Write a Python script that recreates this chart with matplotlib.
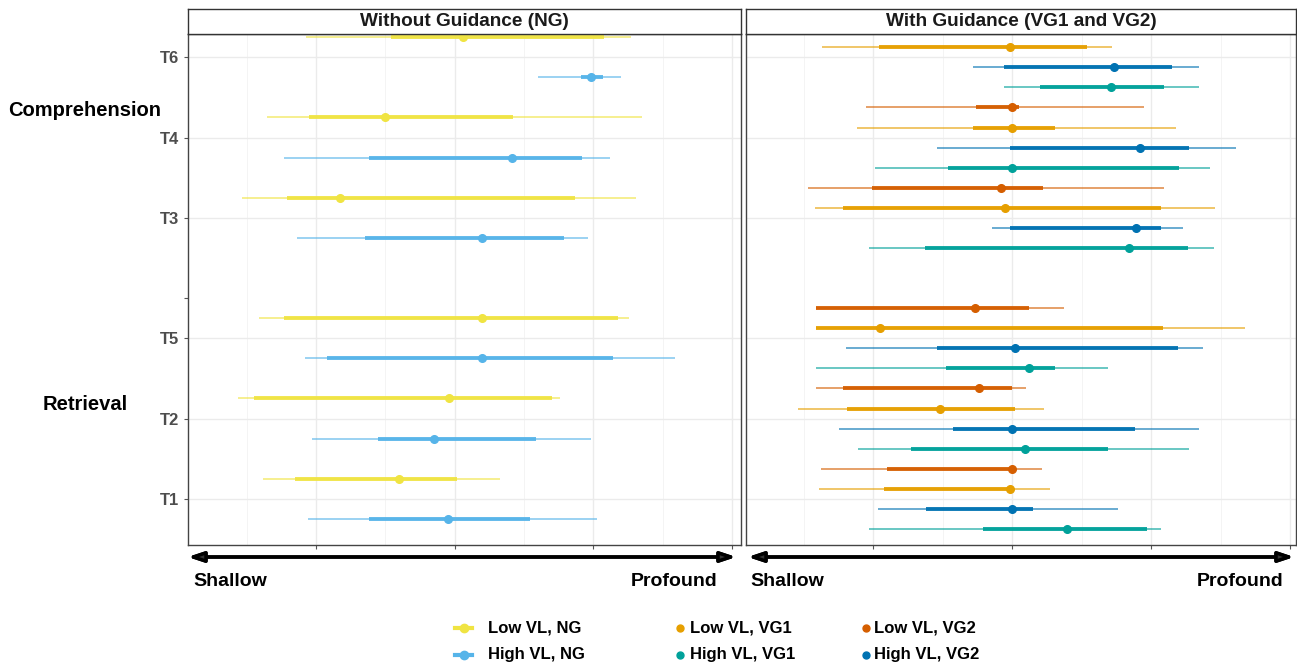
import numpy as np
import matplotlib
matplotlib.use("Agg")
import matplotlib.pyplot as plt
from matplotlib.lines import Line2D

plt.rcParams['font.family'] = ['Liberation Sans', 'DejaVu Sans']

# y polozaji kategorij (T1 spodaj)
tasks = ['T1', 'T2', 'T5', '', 'T3', 'T4', 'T6']
task_y = [1, 2, 3, 3.5, 4.5, 5.5, 6.5]
groups = ['Retrieval', 'Comprehension']
group_y = [2.175, 5.84]

# levi panel - brez vodenja (NG), vrstni red: T6, T4, T3, T5, T2, T1
ng_tasks = ['T6', 'T4', 'T3', 'T5', 'T2', 'T1']
low_ng_med = [2.06, 1.50, 1.17, 2.20, 1.96, 1.60]
low_ng_in = [(1.54, 3.08), (0.95, 2.42), (0.79, 2.87), (0.77, 3.18), (0.55, 2.70), (0.85, 2.02)]
low_ng_out = [(0.93, 3.27), (0.65, 3.35), (0.47, 3.31), (0.59, 3.26), (0.44, 2.76), (0.62, 2.33)]
high_ng_med = [2.98, 2.41, 2.20, 2.20, 1.85, 1.95]
high_ng_in = [(2.91, 3.07), (1.38, 2.92), (1.35, 2.79), (1.08, 3.14), (1.45, 2.59), (1.38, 2.54)]
high_ng_out = [(2.60, 3.20), (0.77, 3.12), (0.86, 2.96), (0.92, 3.59), (0.97, 2.98), (0.94, 3.03)]

# desni panel - z vodenjem (VG1, VG2)
vg_tasks = ['T6', 'T4', 'T3', 'T5', 'T2', 'T1']
low_vg1_med = [1.98, 2.00, 1.95, 1.05, 1.48, 1.98]
low_vg1_in = [(1.04, 2.54), (1.72, 2.31), (0.78, 3.07), (0.59, 3.08), (0.81, 2.02), (1.08, 1.98)]
low_vg1_out = [(0.63, 2.72), (0.88, 3.18), (0.58, 3.46), (0.59, 3.67), (0.46, 2.23), (0.61, 2.27)]
high_vg1_med = [2.71, 2.00, 2.84, 2.12, 2.09, 2.39]
high_vg1_in = [(2.20, 3.09), (1.54, 3.20), (1.37, 3.26), (1.52, 2.31), (1.27, 2.69), (1.79, 2.97)]
high_vg1_out = [(1.94, 3.34), (1.01, 3.42), (0.97, 3.45), (0.59, 2.69), (0.89, 3.27), (0.97, 3.07)]
low_vg2_med = [None, 2.00, 1.92, 1.73, 1.76, 2.00]
low_vg2_in = [None, (1.74, 2.05), (0.99, 2.22), (0.59, 2.12), (0.78, 2.00), (1.10, 2.00)]
low_vg2_out = [None, (0.95, 2.95), (0.53, 3.09), (0.59, 2.37), (0.59, 2.10), (0.62, 2.21)]
high_vg2_med = [2.73, 2.92, 2.89, 2.02, 2.00, 2.00]
high_vg2_in = [(1.94, 3.15), (1.98, 3.27), (1.98, 3.07), (1.46, 3.19), (1.57, 2.88), (1.38, 2.15)]
high_vg2_out = [(1.72, 3.34), (1.46, 3.61), (1.85, 3.23), (0.80, 3.37), (0.75, 3.34), (1.03, 2.76)]

col = {'Low VL, NG': '#F0E442', 'High VL, NG': '#56B4E9',
       'Low VL, VG1': '#E69F00', 'High VL, VG1': '#00A19A',
       'Low VL, VG2': '#D55E00', 'High VL, VG2': '#0072B2'}

W, H = 1297, 664
fig = plt.figure(figsize=(W / 100, H / 100), dpi=100)

def fbox(x0, y0, x1, y1):
    # pikslni pravokotnik -> figure koordinate
    return [x0 / W, 1 - y1 / H, (x1 - x0) / W, (y1 - y0) / H]

ax1 = fig.add_axes(fbox(188, 34, 741, 545))
ax2 = fig.add_axes(fbox(746, 34, 1296, 545))

xmaj = [1, 2, 3, 4]
xmin = [0.5, 1.5, 2.5, 3.5]
row_h = 0.25  # 20 px

def draw_row(ax, y, med, inner, outer, c):
    if med is None:
        return
    ax.plot(outer, [y, y], color=c, lw=1.1, alpha=0.75, solid_capstyle='butt', zorder=3)
    ax.plot(inner, [y, y], color=c, lw=2.8, alpha=0.95, solid_capstyle='butt', zorder=4)
    ax.plot([med], [y], 'o', color=c, ms=5.5, mec=c, zorder=5)

ty = dict(zip(tasks, task_y))
for i, t in enumerate(ng_tasks):
    y = ty[t]
    draw_row(ax1, y + 1 * row_h, low_ng_med[i], low_ng_in[i], low_ng_out[i], col['Low VL, NG'])
    draw_row(ax1, y - 1 * row_h, high_ng_med[i], high_ng_in[i], high_ng_out[i], col['High VL, NG'])
for i, t in enumerate(vg_tasks):
    y = ty[t]
    draw_row(ax2, y + 1.5 * row_h, low_vg2_med[i], low_vg2_in[i], low_vg2_out[i], col['Low VL, VG2'])
    draw_row(ax2, y + 0.5 * row_h, low_vg1_med[i], low_vg1_in[i], low_vg1_out[i], col['Low VL, VG1'])
    draw_row(ax2, y - 0.5 * row_h, high_vg2_med[i], high_vg2_in[i], high_vg2_out[i], col['High VL, VG2'])
    draw_row(ax2, y - 1.5 * row_h, high_vg1_med[i], high_vg1_in[i], high_vg1_out[i], col['High VL, VG1'])

for ax, xl in ((ax1, (0.077, 4.065)), (ax2, (0.084, 4.04))):
    ax.set_xlim(*xl)
    ax.set_ylim(0.425, 6.79)
    for v in xmin:
        ax.axvline(v, color='#F2F2F2', lw=0.6, zorder=0)
    for v in xmaj:
        ax.axvline(v, color='#EBEBEB', lw=1.0, zorder=0)
    for t, v in zip(tasks, task_y):
        if t:
            ax.axhline(v, color='#EBEBEB', lw=1.0, zorder=0)
    ax.set_xticks(xmaj)
    ax.set_xticklabels([])
    ax.set_yticks(task_y)
    ax.tick_params(length=3, color='#555555', width=0.8)
    for s in ax.spines.values():
        s.set_color('#444444')
        s.set_linewidth(1.0)

ax1.set_yticklabels(tasks, fontsize=12, fontweight='bold', color='#4D4D4D')
ax2.set_yticklabels([])
ax2.tick_params(axis='y', length=0)

for g, gy in zip(groups, group_y):
    ax1.text((85 - 188) / 553, (gy - 0.425) / (6.79 - 0.425), g,
             transform=ax1.transAxes, ha='center', va='center',
             fontsize=14.5, fontweight='bold', color='black')

# traki s naslovi
for (x0, x1), title in (((188, 741), 'Without Guidance (NG)'), ((746, 1296), 'With Guidance (VG1 and VG2)')):
    sax = fig.add_axes(fbox(x0, 9, x1, 34))
    sax.set_xticks([]); sax.set_yticks([])
    for s in sax.spines.values():
        s.set_color('#333333')
        s.set_linewidth(1.0)
    sax.text(0.5, 0.5, title, ha='center', va='center', fontsize=13.7,
             fontweight='bold', color='#1A1A1A', transform=sax.transAxes)

# puscice Shallow - Profound
def fpx(x, y):
    return (x / W, 1 - y / H)

for (x0, x1) in ((188, 736), (748, 1294)):
    fig.add_artist(plt.annotate('', xy=fpx(x1, 557), xytext=fpx(x0, 557),
                                xycoords='figure fraction', textcoords='figure fraction',
                                arrowprops=dict(arrowstyle='<|-|>,head_length=0.9,head_width=0.3',
                                                lw=2.5, color='black', fc='#333333',
                                                shrinkA=0, shrinkB=0)))
for x, ha, s in ((193, 'left', 'Shallow'), (718, 'right', 'Profound'),
                 (750, 'left', 'Shallow'), (1284, 'right', 'Profound')):
    fig.text(*fpx(x, 582), s, ha=ha, va='center', fontsize=14, fontweight='bold', color='black')

# legenda
leg_items = [('Low VL, NG', 455, 488, 628, True), ('High VL, NG', 455, 488, 655, True),
             ('Low VL, VG1', 680, 690, 628, False), ('High VL, VG1', 680, 690, 655, False),
             ('Low VL, VG2', 866, 874, 628, False), ('High VL, VG2', 866, 874, 655, False)]
for lab, gx, tx, ly, with_line in leg_items:
    c = col[lab]
    if with_line:
        fig.add_artist(Line2D([gx / W, (gx + 17) / W], [1 - ly / H] * 2, color=c, lw=3))
        fig.add_artist(Line2D([(gx + 8.5) / W], [1 - ly / H], marker='o', color=c, ms=6))
    else:
        fig.add_artist(Line2D([gx / W], [1 - ly / H], marker='o', color=c, ms=5, lw=0))
    fig.text(tx / W, 1 - ly / H, lab, ha='left', va='center', fontsize=12, fontweight='bold', color='black')

fig.savefig('out.png', dpi=100)
